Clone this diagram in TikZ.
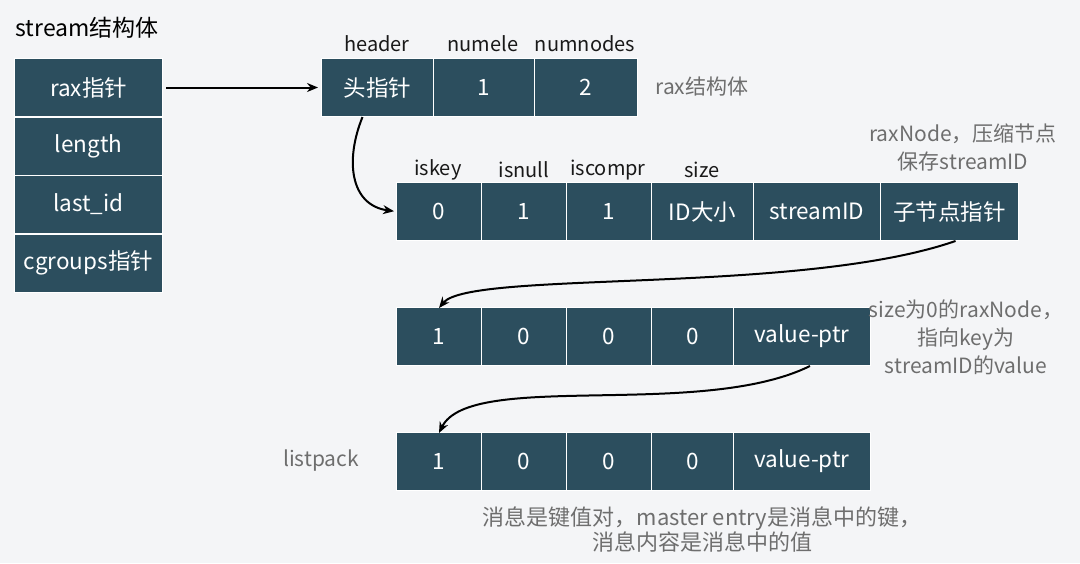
\documentclass[tikz,border=0pt]{standalone}
\usepackage{fontspec}
\setmainfont{Noto Sans CJK SC}
\usetikzlibrary{arrows.meta}
\definecolor{boxblue}{HTML}{2C4E5E}
\definecolor{bggray}{HTML}{F4F5F7}
\definecolor{notegray}{HTML}{6E6E6E}
\begin{document}
\begin{tikzpicture}[%
                x=1pt, y=-1pt,
                cell/.style={draw=white, line width=1pt, fill=boxblue, text=white, anchor=north west,
                    inner sep=0pt, minimum height=58pt, font=\fontsize{22.5}{26}\selectfont},
                fieldname/.style={font=\fontsize{20}{22}\selectfont, text=black!90},
                note/.style={font=\fontsize{21}{28}\selectfont, text=notegray, align=center},
                ptr/.style={-{Stealth[length=11pt, width=9pt]}, line width=2pt}
            ]
            \fill [bggray] (0,0) rectangle (1080,563);
            \useasboundingbox (0,0) rectangle (1080,563);
            % stream
            \node [font=\fontsize{23}{26}\selectfont] (streamtitle) at (87,28) {stream结构体};
            \foreach \myname/\myy/\mytext in {rax/58/rax指针, len/116.5/length, lastid/175/last\_id, cgroups/233.5/cgroups指针}
                \node [cell, minimum width=148pt] (\myname) at (14,\myy) {\mytext};
            % rax
            \foreach \myname/\myx/\myw/\mytext in {hdr/321/112/头指针, numele/433/101/1, numnodes/534/103/2}
                \node [cell, minimum width=\myw pt] (\myname) at (\myx,58) {\mytext};
            \foreach \myname/\myx/\mytext in {lblhdr/377/header, lblnumele/483/numele, lblnumnodes/585/numnodes}
                \node [fieldname] (\myname) at (\myx,44) {\mytext};
            \node [note] (raxnote) at (702,87) {rax结构体};
            % raxNode
            \foreach \myname/\myx/\myw/\mytext in {rn1/396/85/0, rn2/481/85/1, rn3/566/85/1, rn4/651/102/ID大小, rn5/753/127/streamID, child/880/138/子节点指针}
                \node [cell, minimum width=\myw pt] (\myname) at (\myx,182) {\mytext};
            \foreach \myname/\myx/\mytext in {lbliskey/438/iskey, lblisnull/524/isnull, lbliscompr/608/iscompr, lblsize/702/size}
                \node [fieldname] (\myname) at (\myx,170) {\mytext};
            \node [note] (rnnote) at (963,147) {raxNode，压缩节点\\保存streamID};
            % size 0 raxNode
            \foreach \myname/\myx/\myw/\mytext in {za/396/85/1, zb/481/85/0, zc/566/85/0, zd/651/82/0, zval/733/137/value-ptr}
                \node [cell, minimum width=\myw pt] (\myname) at (\myx,307) {\mytext};
            \node [note] (zeronote) at (966,337) {size为0的raxNode，\\指向key为\\streamID的value};
            % listpack
            \foreach \myname/\myx/\myw/\mytext in {la/396/85/1, lb/481/85/0, lc/566/85/0, ld/651/82/0, lval/733/137/value-ptr}
                \node [cell, minimum width=\myw pt] (\myname) at (\myx,432) {\mytext};
            \node [note] (lpname) at (321,461) {listpack};
            \node [note, font=\fontsize{22}{25}\selectfont] (lpnote) at (702,530) {消息是键值对，master entry是消息中的键，\\消息内容是消息中的值};
            % pointers
            \draw [ptr, shorten <=3pt, shorten >=3pt] (rax.east) -- (hdr.west);
            \draw [ptr, shorten >=2pt] ([xshift=-15pt]hdr.south) .. controls (345,160) and (350,205) .. (rn1.west);
            \draw [ptr] ([xshift=6pt]child.south) .. controls (800,295) and (470,270) .. ([yshift=-1pt]za.north);
            \draw [ptr] ([xshift=8pt]zval.south) .. controls (700,420) and (470,370) .. ([yshift=-1pt]la.north);
        \end{tikzpicture}
\end{document}
